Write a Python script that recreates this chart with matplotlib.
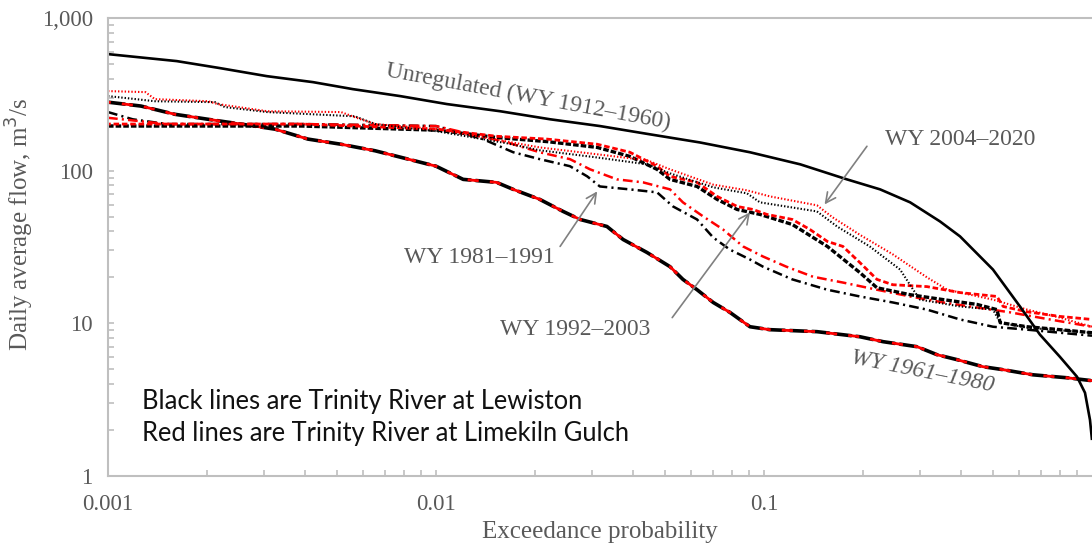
import matplotlib
matplotlib.use("Agg")
import matplotlib.pyplot as plt
from matplotlib.ticker import FixedLocator, FuncFormatter, LogLocator, NullFormatter

plt.rcParams['lines.scale_dashes'] = False

# ---------------- data ----------------
unreg_x = [0.001, 0.00162, 0.00219, 0.00305, 0.00422, 0.00558, 0.00777, 0.0108, 0.0157, 0.0223,
           0.0316, 0.0449, 0.0638, 0.0906, 0.129, 0.179, 0.226, 0.279, 0.344, 0.396, 0.499,
           0.603, 0.694, 0.798, 0.9, 0.952, 0.986, 1.0]
unreg_y = [580, 522, 470, 416, 380, 342, 308, 273, 245, 217,
           196, 173, 153, 132, 110, 87.7, 75.4, 62, 46.5, 37.1, 22.5,
           12.9, 8.43, 6.04, 4.47, 3.51, 2.33, 1.72]

wy6180_x = [0.001, 0.00126, 0.0016, 0.00202, 0.00254, 0.00323, 0.00407, 0.00513, 0.00652, 0.00822,
            0.01, 0.0121, 0.0153, 0.0172, 0.0207, 0.0244, 0.0275, 0.0332, 0.0372, 0.044,
            0.0517, 0.0566, 0.0625, 0.07, 0.0787, 0.0906, 0.104, 0.145, 0.196, 0.231,
            0.293, 0.337, 0.388, 0.465, 0.536, 0.661, 0.839, 1.0]
wy6180_y = [281, 265, 234, 217, 202, 187, 161, 149, 135, 119,
            107, 87.7, 83.8, 75.4, 64.9, 54.1, 47.9, 43.1, 35.4, 29.1,
            23.5, 19.4, 16.6, 13.7, 11.8, 9.5, 9.09, 8.82, 8.17, 7.58,
            7.03, 6.23, 5.78, 5.2, 4.97, 4.6, 4.4, 4.21]

wy8191_blk_x = [0.001, 0.00119, 0.00151, 0.0039, 0.01, 0.0139, 0.0172, 0.0207, 0.0256, 0.0289,
                0.0316, 0.039, 0.0472, 0.0528, 0.0625, 0.07, 0.0787, 0.0906, 0.0993, 0.122,
                0.156, 0.196, 0.247, 0.314, 0.396, 0.499, 0.634, 0.798, 1.0]
wy8191_blk_y = [242, 217, 202, 202, 196, 161, 132, 119, 107, 91.8,
                78.8, 75.4, 72.1, 58.3, 47.9, 36.5, 30.4, 26.2, 23.5, 19.4,
                16.6, 15.0, 13.7, 12.3, 10.6, 9.5, 9.09, 8.68, 8.3]

wy8191_red_x = [0.001, 0.00151, 0.0039, 0.01, 0.0165, 0.0207, 0.0256, 0.0295, 0.0356, 0.0428,
                0.0517, 0.0566, 0.0652, 0.075, 0.0863, 0.0993, 0.117, 0.141, 0.174, 0.221,
                0.279, 0.352, 0.446, 0.563, 0.744, 1.0]
wy8191_red_y = [222, 202, 202, 196, 153, 132, 119, 102, 87.7, 83.8,
                75.4, 62, 50.2, 41.2, 31.9, 27.4, 23.5, 20.2, 18.5, 16.6,
                15.0, 13.7, 12.7, 11.8, 10.6, 9.5]

wy9203_red_x = [0.001, 0.0039, 0.0101, 0.0153, 0.0218, 0.031, 0.039, 0.0472, 0.0517, 0.0625,
                0.0719, 0.0828, 0.0925, 0.102, 0.122, 0.138, 0.156, 0.174, 0.196, 0.221,
                0.247, 0.314, 0.396, 0.513, 0.536, 0.634, 0.798, 1.0]
wy9203_red_y = [202, 202, 187, 168, 161, 149, 132, 107, 91.8, 83.8,
                67.9, 58.3, 55.7, 51.7, 47.9, 41.2, 34.4, 31.9, 25, 19.4,
                17.9, 17.4, 15.9, 15.0, 12.9, 11.9, 11.1, 10.6]

wy9203_blk_x = [0.001, 0.0039, 0.0101, 0.0153, 0.0218, 0.031, 0.039, 0.0472, 0.0517, 0.0625,
                0.0719, 0.0828, 0.0972, 0.122, 0.156, 0.196, 0.221, 0.279, 0.352, 0.446,
                0.513, 0.525, 0.634, 0.798, 1.0]
wy9203_blk_y = [196, 196, 184, 165, 155, 142, 124, 102, 87.7, 78.8,
                64.9, 55.7, 51.7, 44.4, 31.9, 21.5, 17.1, 15.4, 14.3, 13.3,
                12.3, 10.1, 9.5, 9.09, 8.68]

wy0420_red_x = [0.001, 0.0013, 0.00139, 0.00202, 0.00216, 0.00306, 0.00513, 0.0059, 0.00652, 0.0101,
                0.0165, 0.0207, 0.031, 0.044, 0.0517, 0.07, 0.0888, 0.104, 0.145, 0.162,
                0.196, 0.247, 0.314, 0.362, 0.499, 0.634, 0.798, 1.0]
wy0420_red_y = [332, 327, 294, 285, 273, 245, 242, 217, 202, 187,
                155, 142, 128, 117, 102, 81, 74.3, 67.9, 59.3, 49.4,
                38, 28.3, 20, 16.6, 14.3, 12.3, 10.9, 9.5]

wy0420_blk_x = [0.001, 0.00139, 0.00212, 0.00227, 0.00306, 0.00566, 0.00652, 0.0101, 0.0165, 0.0207,
                0.031, 0.044, 0.0517, 0.07, 0.0888, 0.0972, 0.145, 0.167, 0.21, 0.26,
                0.285, 0.299, 0.396, 0.499, 0.525, 0.634, 1.0]
wy0420_blk_y = [308, 285, 281, 261, 242, 227, 202, 181, 151, 136,
                122, 110, 96, 77.8, 71, 62, 54.1, 43.1, 31.9, 22.5,
                16.6, 14.3, 12.9, 12.3, 10.1, 9.37, 8.68]

x_ticks = [0.001, 0.01, 0.1]
x_tick_labels = ["0.001", "0.01", "0.1"]
y_ticks = [1, 10, 100, 1000]
y_tick_labels = ["1", "10", "100", "1,000"]

# ---------------- figure ----------------
fig = plt.figure(figsize=(10.92, 5.44), dpi=100)
ax = fig.add_axes([108/1092, 68/544, 1 - 108/1092, (476-18)/544])
ax.set_xscale('log')
ax.set_yscale('log')
ax.set_xlim(0.001, 1.0)
ax.set_ylim(1, 1000)

RED = '#ff0000'
BLK = '#000000'

# 1961-1980 long dash
ax.plot(wy6180_x, wy6180_y, color=BLK, lw=2.6, linestyle=(0, (12, 4)), dash_capstyle='round')
ax.plot(wy6180_x, wy6180_y, color=RED, lw=2.0, linestyle=(6, (8, 8)))
# 1981-1991 dash dot
ax.plot(wy8191_blk_x, wy8191_blk_y, color=BLK, lw=1.8, linestyle=(0, (7, 3, 1.5, 3)))
ax.plot(wy8191_red_x, wy8191_red_y, color=RED, lw=1.8, linestyle=(0, (7, 3, 1.5, 3)))
# 1992-2003 dashed
ax.plot(wy9203_blk_x, wy9203_blk_y, color=BLK, lw=2.4, linestyle=(0, (4, 1.5)))
ax.plot(wy9203_red_x, wy9203_red_y, color=RED, lw=2.0, linestyle=(2, (4, 2)))
# 2004-2020 dotted
ax.plot(wy0420_blk_x, wy0420_blk_y, color=BLK, lw=1.5, linestyle=(0, (1, 1.4)))
ax.plot(wy0420_red_x, wy0420_red_y, color=RED, lw=1.5, linestyle=(0, (1, 1.4)))
# unregulated
ax.plot(unreg_x, unreg_y, color=BLK, lw=1.9, solid_capstyle='butt')

# axes styling
for s in ['left', 'bottom', 'top']:
    ax.spines[s].set_color('#bfbfbf')
    ax.spines[s].set_linewidth(1.5)
ax.spines['right'].set_visible(False)

ax.xaxis.set_major_locator(FixedLocator(x_ticks))
ax.xaxis.set_major_formatter(FuncFormatter(lambda v, p: x_tick_labels[x_ticks.index(v)] if v in x_ticks else ""))
ax.yaxis.set_major_locator(FixedLocator(y_ticks))
ax.yaxis.set_major_formatter(FuncFormatter(lambda v, p: y_tick_labels[y_ticks.index(v)] if v in y_ticks else ""))
ax.xaxis.set_minor_locator(LogLocator(base=10, subs=range(2, 10)))
ax.yaxis.set_minor_locator(LogLocator(base=10, subs=range(2, 10)))
ax.xaxis.set_minor_formatter(NullFormatter())
ax.yaxis.set_minor_formatter(NullFormatter())
ax.tick_params(which='both', direction='in', color='#bfbfbf', width=1.2, length=4,
               top=False, right=False)
ax.tick_params(axis='x', which='major', pad=13, labelsize=16.5, labelcolor='#595959')
ax.tick_params(axis='y', which='major', pad=11, labelsize=16.5, labelcolor='#595959')
for lbl in ax.get_xticklabels() + ax.get_yticklabels():
    lbl.set_family('Liberation Serif')

ax.set_xlabel('Exceedance probability', family='Liberation Serif', fontsize=18, color='#595959', labelpad=4)
ax.set_ylabel('Daily average flow, m$^3$/s', family='Liberation Serif', fontsize=18, color='#595959')
ax.yaxis.set_label_coords(-0.073, 0.55)

serif = dict(family='Liberation Serif', color='#595959', fontsize=17)
arrow = dict(arrowstyle='->', color='#808080', lw=1.2, shrinkA=0, shrinkB=0, mutation_scale=18)

ax.text(0.0191, 303, 'Unregulated (WY 1912–1960)', rotation=-10.5, ha='center', va='center',
        rotation_mode='anchor', **serif)
ax.text(0.305, 4.82, 'WY 1961–1980', rotation=-11.3, ha='center', va='center',
        rotation_mode='anchor', style='italic', **serif)
ax.text(0.0136, 27.0, 'WY 1981–1991', ha='center', va='center', **serif)
ax.annotate('', xy=(0.031, 73.2), xytext=(0.0239, 31.9), arrowprops=arrow)
ax.text(0.0265, 9.09, 'WY 1992–2003', ha='center', va='center', **serif)
ax.annotate('', xy=(0.0906, 53.3), xytext=(0.0525, 10.9), arrowprops=arrow)
ax.text(0.396, 161, 'WY 2004–2020', ha='center', va='center', **serif)
ax.annotate('', xy=(0.153, 60.1), xytext=(0.206, 144.5), arrowprops=arrow)

sans = dict(family='Lato', color='#111111', fontsize=18.4)
fig.text(142/1092, 1 - 402/544, 'Black lines are Trinity River at Lewiston', ha='left', va='center', **sans)
fig.text(142/1092, 1 - 433/544, 'Red lines are Trinity River at Limekiln Gulch', ha='left', va='center', **sans)

fig.savefig('out.png', dpi=100)
